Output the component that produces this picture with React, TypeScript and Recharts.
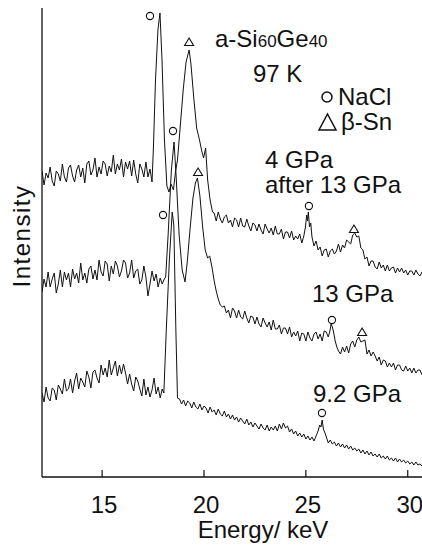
import React from 'react'
import { ComposedChart, Line, Scatter, XAxis, YAxis } from 'recharts'

// energy (keV), intensity (arb. units, 0 at baseline of frame)
const spec4after13: [number, number][] = [
  [12.05,306],[12.15,292],[12.25,304],[12.35,299],[12.45,310],[12.55,296],[12.65,291],[12.75,306],[12.85,303],[12.95,296],
  [13.05,313],[13.15,300],[13.25,295],[13.35,309],[13.45,312],[13.55,301],[13.65,295],[13.75,307],[13.85,312],[13.95,300],
  [14.05,309],[14.15,294],[14.25,313],[14.35,316],[14.45,302],[14.55,307],[14.65,319],[14.75,300],[14.85,310],[14.95,303],
  [15.05,316],[15.15,313],[15.25,301],[15.35,311],[15.45,305],[15.55,322],[15.65,303],[15.75,313],[15.85,307],[15.95,318],
  [16.05,300],[16.15,315],[16.25,308],[16.35,316],[16.45,301],[16.55,317],[16.65,303],[16.75,294],[16.85,313],[16.95,308],
  [17.05,300],[17.15,315],[17.25,300],[17.35,308],[17.45,295],[17.52,330],[17.62,397],[17.74,447],[17.84,464],[17.94,417],
  [18.06,337],[18.18,291],[18.28,285],[18.38,293],[18.5,287],[18.6,305],[18.7,317],[18.84,352],[18.98,387],[19.12,415],
  [19.27,427],[19.36,413],[19.5,379],[19.64,349],[19.78,337],[19.88,327],[19.98,319],[20.08,329],[20.18,297],[20.3,277],
  [20.42,265],[20.5,264],[20.6,256],[20.7,265],[20.8,258],[20.9,254],[21.0,260],[21.1,262],[21.2,254],[21.3,257],
  [21.4,250],[21.5,259],[21.6,257],[21.7,250],[21.8,259],[21.9,251],[22.0,250],[22.1,258],[22.2,251],[22.3,246],
  [22.4,254],[22.5,252],[22.6,246],[22.7,253],[22.8,247],[22.9,243],[23.0,253],[23.1,248],[23.2,244],[23.3,249],
  [23.4,242],[23.5,251],[23.6,243],[23.7,243],[23.8,248],[23.9,238],[24.0,245],[24.1,245],[24.2,239],[24.3,246],
  [24.4,237],[24.5,241],[24.6,238],[24.7,243],[24.8,234],[24.9,241],[24.98,250],[25.04,262],[25.08,256],[25.12,265],
  [25.18,250],[25.24,254],[25.3,240],[25.4,231],[25.5,236],[25.6,227],[25.7,230],[25.8,221],[25.9,227],[26.0,228],
  [26.1,220],[26.2,226],[26.3,228],[26.4,223],[26.5,226],[26.6,233],[26.7,225],[26.8,232],[26.9,229],[27.0,237],
  [27.1,235],[27.2,233],[27.3,242],[27.4,244],[27.5,240],[27.6,241],[27.7,229],[27.8,227],[27.9,218],[28.0,220],
  [28.1,211],[28.2,216],[28.3,216],[28.4,210],[28.5,208],[28.6,215],[28.7,209],[28.8,212],[28.9,206],[29.0,212],
  [29.1,206],[29.2,209],[29.3,210],[29.4,204],[29.5,209],[29.6,205],[29.7,209],[29.8,204],[29.9,207],[30.0,202],
  [30.1,206],[30.2,206],[30.3,202],[30.4,207],[30.5,203],[30.6,201],[30.7,205],
]

const spec13: [number, number][] = [
  [12.05,185],[12.15,198],[12.25,190],[12.35,205],[12.45,190],[12.55,198],[12.65,204],[12.75,184],[12.85,193],[12.95,207],
  [13.05,190],[13.15,205],[13.25,197],[13.35,204],[13.45,190],[13.55,208],[13.65,198],[13.75,204],[13.85,194],[13.95,214],
  [14.05,197],[14.15,204],[14.25,194],[14.35,208],[14.45,211],[14.55,198],[14.65,207],[14.75,197],[14.85,217],[14.95,205],
  [15.05,201],[15.15,216],[15.25,213],[15.35,196],[15.45,211],[15.55,203],[15.65,216],[15.75,211],[15.85,200],[15.95,206],
  [16.05,217],[16.15,214],[16.25,199],[16.35,204],[16.45,217],[16.55,199],[16.65,206],[16.75,208],[16.85,193],[16.95,197],
  [17.05,211],[17.15,200],[17.25,181],[17.35,193],[17.45,206],[17.55,196],[17.65,203],[17.75,190],[17.85,199],[17.95,193],
  [18.05,198],[18.12,200],[18.24,242],[18.4,307],[18.53,335],[18.63,302],[18.78,242],[18.93,207],[19.07,195],[19.18,215],
  [19.32,249],[19.46,279],[19.58,294],[19.68,299],[19.8,281],[19.94,249],[20.06,227],[20.18,219],[20.28,221],[20.4,209],
  [20.5,196],[20.6,186],[20.7,178],[20.8,172],[20.9,170],[21.0,171],[21.1,164],[21.2,167],[21.3,159],[21.4,169],
  [21.5,166],[21.6,159],[21.7,167],[21.8,160],[21.9,158],[22.0,166],[22.1,159],[22.2,154],[22.3,161],[22.4,160],
  [22.5,153],[22.6,160],[22.7,153],[22.8,150],[22.9,159],[23.0,154],[23.1,150],[23.2,155],[23.3,147],[23.4,157],
  [23.5,148],[23.6,148],[23.7,152],[23.8,143],[23.9,149],[24.0,149],[24.1,143],[24.2,150],[24.3,140],[24.4,145],
  [24.5,141],[24.6,146],[24.7,136],[24.8,144],[24.9,143],[25.0,136],[25.1,145],[25.2,139],[25.3,136],[25.4,143],
  [25.5,145],[25.6,138],[25.7,143],[25.8,136],[25.9,146],[26.0,145],[26.1,140],[26.18,146],[26.24,153],[26.3,150],
  [26.36,145],[26.44,136],[26.52,130],[26.6,126],[26.7,123],[26.8,130],[26.9,125],[27.0,131],[27.1,124],[27.2,133],
  [27.3,136],[27.4,130],[27.5,137],[27.6,140],[27.7,135],[27.8,136],[27.9,137],[28.0,123],[28.1,127],[28.2,121],
  [28.3,125],[28.4,121],[28.5,116],[28.6,120],[28.7,112],[28.8,117],[28.9,116],[29.0,110],[29.1,114],[29.2,110],
  [29.3,114],[29.4,107],[29.5,112],[29.6,112],[29.7,107],[29.8,106],[29.9,111],[30.0,106],[30.1,109],[30.2,104],
  [30.3,109],[30.4,104],[30.5,107],[30.6,107],[30.7,102],
]

const spec92: [number, number][] = [
  [12.05,84],[12.15,75],[12.25,90],[12.35,79],[12.45,76],[12.55,89],[12.65,87],[12.75,77],[12.85,92],[12.95,88],
  [13.05,83],[13.15,98],[13.25,86],[13.35,88],[13.45,98],[13.55,84],[13.65,96],[13.75,104],[13.85,88],[13.95,99],
  [14.05,95],[14.15,90],[14.25,106],[14.35,100],[14.45,89],[14.55,105],[14.65,107],[14.75,99],[14.85,94],[14.95,112],
  [15.05,102],[15.15,109],[15.25,100],[15.35,117],[15.45,102],[15.55,109],[15.65,116],[15.75,101],[15.85,112],[15.95,103],
  [16.05,113],[16.15,104],[16.25,93],[16.35,103],[16.45,93],[16.55,86],[16.65,100],[16.75,96],[16.85,88],[16.95,81],
  [17.05,98],[17.15,82],[17.25,90],[17.35,80],[17.45,87],[17.55,99],[17.65,83],[17.75,90],[17.85,79],[17.95,88],
  [18.03,84],[18.15,147],[18.3,217],[18.44,265],[18.52,252],[18.62,147],[18.7,79],[18.8,78],[18.9,73],[19.0,77],
  [19.1,71],[19.2,76],[19.3,74],[19.4,69],[19.5,75],[19.6,70],[19.7,68],[19.8,73],[19.9,67],[20.0,71],
  [20.1,69],[20.2,64],[20.3,70],[20.4,65],[20.5,67],[20.6,62],[20.7,68],[20.8,63],[20.9,61],[21.0,66],
  [21.1,60],[21.2,63],[21.3,58],[21.4,62],[21.5,57],[21.6,60],[21.7,55],[21.8,59],[21.9,56],[22.0,53],
  [22.1,58],[22.2,52],[22.3,55],[22.4,50],[22.5,54],[22.6,51],[22.7,48],[22.8,53],[22.9,49],[23.0,47],
  [23.1,52],[23.2,46],[23.3,50],[23.4,47],[23.5,51],[23.6,46],[23.7,53],[23.8,48],[23.9,54],[24.0,49],
  [24.1,51],[24.2,45],[24.3,48],[24.4,43],[24.5,46],[24.6,41],[24.7,44],[24.8,40],[24.9,43],[25.0,38],
  [25.1,41],[25.2,37],[25.3,40],[25.4,36],[25.5,41],[25.6,46],[25.68,52],[25.74,50],[25.8,57],[25.86,48],
  [25.94,44],[26.02,39],[26.1,34],[26.2,37],[26.3,33],[26.4,35],[26.5,31],[26.6,34],[26.7,30],[26.8,33],
  [26.9,29],[27.0,32],[27.1,28],[27.2,31],[27.3,27],[27.4,29],[27.5,26],[27.6,28],[27.7,24],[27.8,27],
  [27.9,23],[28.0,26],[28.1,22],[28.2,25],[28.3,21],[28.4,23],[28.5,20],[28.6,23],[28.7,19],[28.8,21],
  [28.9,18],[29.0,21],[29.1,17],[29.2,19],[29.3,16],[29.4,19],[29.5,15],[29.6,18],[29.7,15],[29.8,17],
  [29.9,14],[30.0,16],[30.1,13],[30.2,15],[30.3,12],[30.4,15],[30.5,12],[30.6,13],[30.7,11],
]

// peak markers
const naclPeaks: [number, number][] = [[17.35,461],[18.48,346],[17.99,262],[25.15,271],[26.28,157],[25.79,64]]
const snPeaks: [number, number][] = [[19.27,435],[19.71,305],[27.36,248],[27.76,145]]

const energyTicks = [15, 20, 25, 30]

const rows = (a: [number, number][]) => a.map(([e, v]) => ({ e, v }))

const FONT = '"Liberation Sans", Arial, sans-serif'
const INK = '#111'

const BottomTick = (p: any) => (
  <g>
    <line x1={p.x} y1={p.y} x2={p.x} y2={p.y - 7} stroke={INK} strokeWidth={1.2} />
    <text x={p.x + 2} y={p.y + 36} textAnchor="middle" fontFamily={FONT} fontSize={24} fill={INK}>
      {p.payload.value}
    </text>
  </g>
)

const TopTick = (p: any) => (
  <line x1={p.x} y1={p.y} x2={p.x} y2={p.y + 8} stroke={INK} strokeWidth={1.2} />
)

const Ring = (p: any) => <circle cx={p.cx} cy={p.cy} r={3.6} fill="none" stroke={INK} strokeWidth={1.1} />
const Tri = (p: any) => (
  <path d={`M${p.cx},${p.cy - 4} L${p.cx + 4.5},${p.cy + 3.5} L${p.cx - 4.5},${p.cy + 3.5} Z`} fill="none" stroke={INK} strokeWidth={1.1} />
)

export default function App() {
  const txt = { fontFamily: FONT, fontSize: 24, fill: INK }
  return (
    <div style={{ position: 'fixed', left: 0, top: 0, width: 422, height: 549, overflow: 'hidden', background: '#fff' }}>
      <ComposedChart width={422} height={549} margin={{ top: 8, right: 0, left: 0, bottom: 0 }}>
        <XAxis
          dataKey="e" type="number" domain={[12.05, 30.7]} ticks={energyTicks} allowDataOverflow
          height={72} tickSize={0} tickMargin={0} tickLine={false} tick={<BottomTick />}
          axisLine={{ stroke: INK, strokeWidth: 1.3 }}
          label={{
            content: () => (
              <text x={263} y={538} textAnchor="middle" {...txt}>Energy/ keV</text>
            ),
          }}
        />
        <XAxis
          xAxisId="top" orientation="top" dataKey="e" type="number" domain={[12.05, 30.7]} ticks={energyTicks}
          allowDataOverflow height={0} tickSize={0} tickMargin={0} tickLine={false} tick={<TopTick />}
          axisLine={{ stroke: INK, strokeWidth: 1.3 }}
        />
        <YAxis
          dataKey="v" type="number" domain={[0, 469]} width={42} tick={false} tickLine={false}
          axisLine={{ stroke: INK, strokeWidth: 1.3 }}
          label={{
            content: () => (
              <text x={30} y={236} textAnchor="middle" transform="rotate(-90 30 236)" letterSpacing={1.5} {...txt}>
                Intensity
              </text>
            ),
          }}
        />
        <Line data={rows(spec4after13)} dataKey="v" type="linear" stroke={INK} strokeWidth={1} dot={false} isAnimationActive={false} />
        <Line data={rows(spec13)} dataKey="v" type="linear" stroke={INK} strokeWidth={1} dot={false} isAnimationActive={false} />
        <Line data={rows(spec92)} dataKey="v" type="linear" stroke={INK} strokeWidth={1} dot={false} isAnimationActive={false} />
        <Scatter data={rows(naclPeaks)} dataKey="v" shape={<Ring />} isAnimationActive={false} />
        <Scatter data={rows(snPeaks)} dataKey="v" shape={<Tri />} isAnimationActive={false} />
      </ComposedChart>
      <svg width={422} height={549} style={{ position: 'absolute', left: 0, top: 0, pointerEvents: 'none' }}>
        <text x={215} y={47} {...txt}>a-Si<tspan fontSize={17}>60</tspan>Ge<tspan fontSize={17}>40</tspan></text>
        <text x={253} y={82} {...txt}>97 K</text>
        <circle cx={327} cy={97} r={5} fill="none" stroke={INK} strokeWidth={1.5} />
        <text x={338} y={105} {...txt}>NaCl</text>
        <path d="M319,130 L336,130 L327.5,114 Z" fill="none" stroke={INK} strokeWidth={1.5} />
        <text x={341} y={130} {...txt}>β-Sn</text>
        <text x={265} y={168} {...txt}>4 GPa</text>
        <text x={265} y={193} {...txt}>after 13 GPa</text>
        <text x={312} y={302} {...txt}>13 GPa</text>
        <text x={313} y={402} {...txt}>9.2 GPa</text>
      </svg>
    </div>
  )
}
